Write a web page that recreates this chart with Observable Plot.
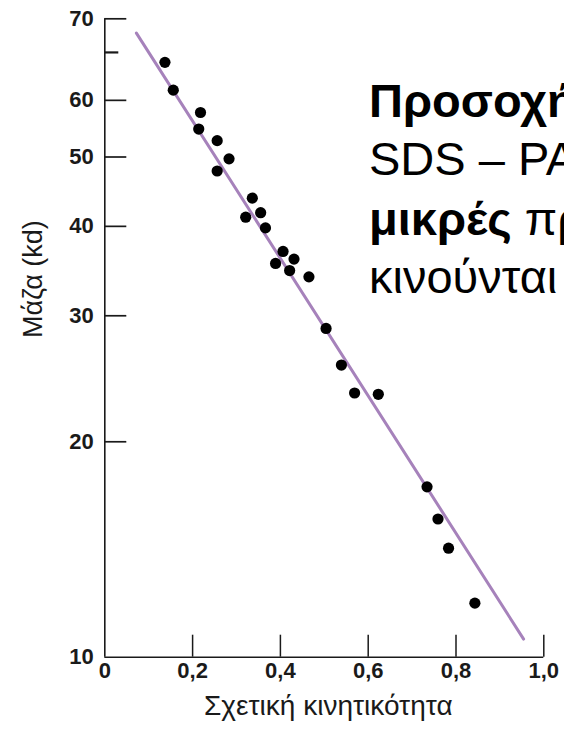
<!DOCTYPE html>
<html>
<head>
<meta charset="utf-8">
<script src="https://cdn.jsdelivr.net/npm/d3@7"></script>
<script src="https://cdn.jsdelivr.net/npm/@observablehq/plot@0.6"></script>
<style>
  html, body { margin: 0; padding: 0; width: 564px; height: 732px; overflow: hidden; background: #fff; }
  #wrap { position: relative; width: 564px; height: 732px; overflow: hidden; }
  .note {
    position: absolute; left: 369px;
    font-family: "Liberation Sans", Arial, Helvetica, sans-serif;
    font-size: 47px; line-height: 58px; height: 58px; color: #000; white-space: nowrap;
  }
  .note b { font-weight: bold; }
</style>
</head>
<body>
<div id="wrap">
  <div id="chart"></div>
  <div class="note" style="top:72px"><b>Προσοχή!</b></div>
  <div class="note" style="top:130px">SDS – PAGE</div>
  <div class="note" style="top:190px"><b>μικρές</b> πρωτεΐνες</div>
  <div class="note" style="top:248px">κινούνται</div>
</div>
<script>
// Relative mobility (x) and mass in kd (y) of the marker proteins
const mobility = [0.137, 0.156, 0.218, 0.214, 0.256, 0.283, 0.256, 0.336, 0.355, 0.321, 0.366, 0.406, 0.431, 0.389, 0.421, 0.465, 0.504, 0.539, 0.569, 0.623, 0.734, 0.759, 0.783, 0.843];
const mass     = [67.8, 62.0, 57.7, 54.7, 52.7, 49.7, 47.8, 43.8, 41.8, 41.2, 39.8, 36.9, 36.0, 35.5, 34.7, 34.0, 28.8, 25.6, 23.4, 23.3, 17.3, 15.6, 14.2, 11.9];

// Fitted calibration line end points
const fitMobility = [0.072, 0.954];
const fitMass     = [74.5, 10.6];

// Axis ticks
const xTickValues = [0, 0.2, 0.4, 0.6, 0.8, 1.0];
const xTickLabels = ["0", "0,2", "0,4", "0,6", "0,8", "1,0"];
const yTickValues = [10, 20, 30, 40, 50, 60, 70, 78];
const yTickLabels = ["10", "20", "30", "40", "50", "60", "", "70"];

const xLabel = "Σχετική κινητικότητα";
const yLabel = "Μάζα (kd)";

const points = mobility.map((m, i) => ({x: m, y: mass[i]}));
const fit = fitMobility.map((m, i) => ({x: m, y: fitMass[i]}));
const yTicks = yTickValues.map((v, i) => ({v, label: yTickLabels[i]}));
const xTicks = xTickValues.map((v, i) => ({v, label: xTickLabels[i]}));

const W = 564, H = 732;
const mL = 104.3, mR = 564 - 543.3, mT = 18.3, mB = 732 - 656.7;
const frameW = W - mL - mR, frameH = H - mT - mB;
const ink = "#1a1a1a";
const font = "'Liberation Sans', Arial, Helvetica, sans-serif";

const chart = Plot.plot({
  width: W,
  height: H,
  marginLeft: mL,
  marginRight: mR,
  marginTop: mT,
  marginBottom: mB,
  x: {domain: [0, 1], axis: null},
  y: {type: "log", domain: [10, 78], axis: null},
  style: {fontFamily: font, background: "white", color: ink},
  marks: [
    // axis lines
    Plot.ruleX([0], {stroke: ink, strokeWidth: 1.6}),
    Plot.ruleY([10], {stroke: ink, strokeWidth: 1.6}),
    // x ticks pointing inwards
    Plot.ruleX(xTicks.filter(d => d.v > 0), {x: "v", stroke: ink, strokeWidth: 1.5, insetTop: frameH - 22}),
    // y ticks pointing inwards
    Plot.ruleY(yTicks.filter(d => d.label !== "" && d.v > 10), {y: "v", stroke: ink, strokeWidth: 1.7, insetRight: frameW - 22}),
    Plot.ruleY(yTicks.filter(d => d.label === ""), {y: "v", stroke: ink, strokeWidth: 2.2, insetRight: frameW - 14}),
    // tick labels
    Plot.text(yTicks, {y: "v", text: "label", frameAnchor: "left", dx: -11, textAnchor: "end", fontSize: 22, fill: ink, fontWeight: "bold"}),
    Plot.text(xTicks, {x: "v", text: "label", frameAnchor: "bottom", dy: 21, fontSize: 22, fill: ink, fontWeight: "bold"}),
    // axis titles
    Plot.text([xLabel], {frameAnchor: "bottom", dy: 58, dx: 4, fontSize: 28, fill: ink}),
    Plot.text([yLabel], {frameAnchor: "left", dx: -71, rotate: -90, fontSize: 27, fill: ink}),
    // calibration line and data
    Plot.line(fit, {x: "x", y: "y", stroke: "#a682bb", strokeWidth: 3}),
    Plot.dot(points, {x: "x", y: "y", r: 5.6, fill: "black", stroke: "none"})
  ]
});
document.getElementById("chart").appendChild(chart);
</script>
</body>
</html>
